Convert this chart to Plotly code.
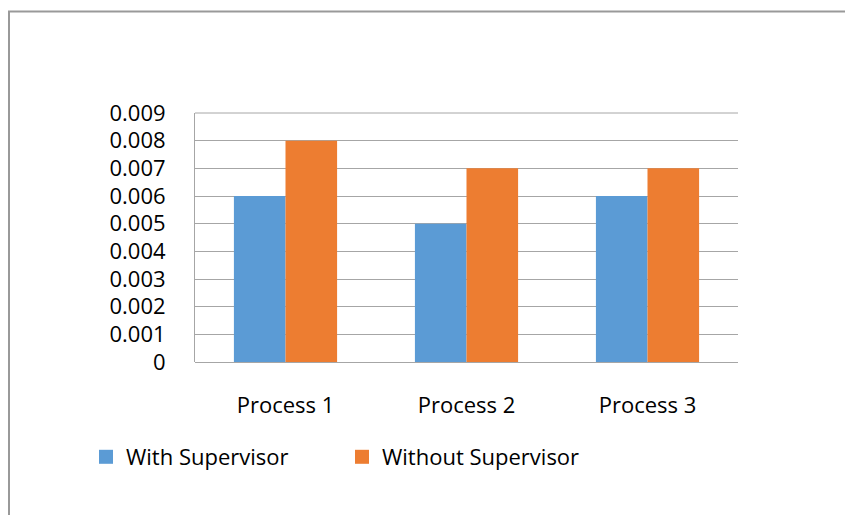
import plotly.graph_objects as go

categories = ["Process 1", "Process 2", "Process 3"]
with_supervisor = [0.006, 0.005, 0.006]
without_supervisor = [0.008, 0.007, 0.007]
series_names = ["With Supervisor", "Without Supervisor"]
series_colors = ["#5b9bd5", "#ed7d31"]
y_tick_values = [0, 0.001, 0.002, 0.003, 0.004, 0.005, 0.006, 0.007, 0.008, 0.009]
y_tick_labels = ["0", "0.001", "0.002", "0.003", "0.004", "0.005", "0.006", "0.007", "0.008", "0.009"]

FONT = "Open Sans"
GRID = "#a6a6a6"

fig = go.Figure()
for name, values, color in zip(series_names, [with_supervisor, without_supervisor], series_colors):
    fig.add_trace(go.Bar(name=name, x=categories, y=values, showlegend=False,
                         legendgroup=name, marker=dict(color=color, line=dict(width=0))))
# legend keys drawn as slightly larger squares
for name, color in zip(series_names, series_colors):
    fig.add_trace(go.Scatter(name=name, x=[None], y=[None], mode="markers",
                             legendgroup=name, showlegend=True,
                             marker=dict(symbol="square", size=14, color=color)))

# plot area spans 195..738 px horizontally and 113..362 px vertically
L, R, T, B = 195, 107, 113, 153
W, H = 845, 515
pw, ph = W - L - R, H - T - B

def px_x(x):
    return (x - L) / pw

def px_y(y):
    return (H - B - y) / ph

fig.update_layout(
    width=W, height=H,
    margin=dict(l=L, r=R, t=T, b=B, pad=0),
    paper_bgcolor="white", plot_bgcolor="white",
    font=dict(family=FONT, size=22, color="#000000"),
    barmode="group", bargap=0.43, bargroupgap=0,
    showlegend=True,
    legend=dict(orientation="h", x=px_x(86), xanchor="left",
                y=px_y(457), yanchor="middle",
                font=dict(family=FONT, size=22, color="#000000"),
                entrywidth=211, entrywidthmode="pixels",
                bgcolor="rgba(0,0,0,0)", traceorder="normal"),
    xaxis=dict(showgrid=False, showline=False, ticks="", zeroline=False,
               tickfont=dict(family=FONT, size=22), ticklabelstandoff=28),
    yaxis=dict(range=[0, 0.009], tickvals=y_tick_values, ticktext=y_tick_labels,
               showgrid=True, gridcolor=GRID, gridwidth=1,
               showline=True, linecolor=GRID, linewidth=1,
               zeroline=True, zerolinecolor=GRID, zerolinewidth=1,
               ticks="", tickfont=dict(family=FONT, size=22), ticklabelstandoff=24),
    shapes=[
        # outer chart frame
        dict(type="rect", xref="paper", yref="paper",
             x0=px_x(9), x1=px_x(W + 20), y0=px_y(11.5), y1=px_y(H + 20),
             line=dict(color="#999999", width=2), fillcolor="rgba(0,0,0,0)", layer="below"),
        # top gridline of the plot area
        dict(type="line", xref="paper", yref="paper", x0=0, x1=1, y0=1, y1=1,
             line=dict(color=GRID, width=1), layer="below"),
    ],
)

fig.write_html("out.html")
